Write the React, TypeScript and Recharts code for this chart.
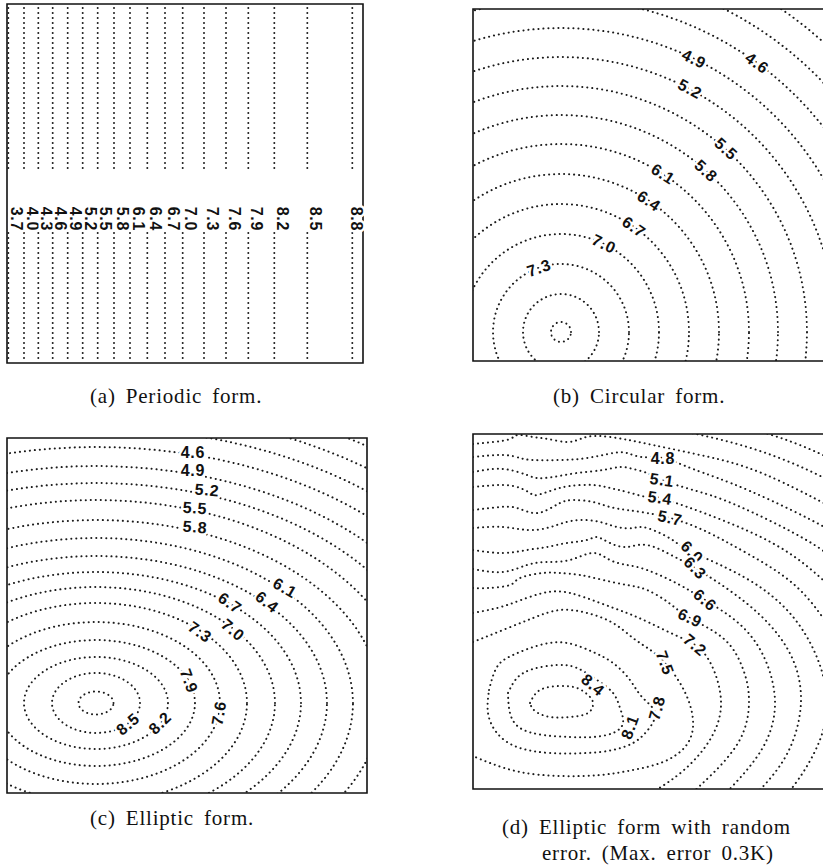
import { ComposedChart, Line, ReferenceDot, XAxis, YAxis, ReferenceArea } from "recharts";

// one plot unit = 10 px on screen, same in x and y
const PX = 10;

// (a) periodic form: straight contours, level and x position
const periodicLevels = [3.7, 4.0, 4.3, 4.6, 4.9, 5.2, 5.5, 5.8, 6.1, 6.4, 6.7, 7.0, 7.3, 7.6, 7.9, 8.2, 8.5, 8.8];
const periodicX = [0.13, 1.7, 3.13, 4.57, 6.07, 7.57, 9.07, 10.7, 12.3, 14.03, 15.8, 17.57, 19.7, 21.9, 24.13, 26.73, 30.03, 34.53];

// (b) circular form
const circularCenter = [8.8, 2.9];
const circularLevels = [7.9, 7.6, 7.3, 7.0, 6.7, 6.4, 6.1, 5.8, 5.5, 5.2, 4.9, 4.6, 4.3, 4.0];
const circularRadius = [1.0, 3.8, 6.8, 9.8, 12.8, 15.8, 18.8, 21.7, 24.6, 27.5, 30.4, 33.3, 36.2, 39.1];
const circularLabels = [
  { text: "7.3", x: 6.6, y: 9.3, angle: -19 },
  { text: "7.0", x: 13.1, y: 11.7, angle: 26 },
  { text: "6.7", x: 16.1, y: 13.4, angle: 35 },
  { text: "6.4", x: 17.6, y: 16.0, angle: 34 },
  { text: "6.1", x: 19.0, y: 18.7, angle: 33 },
  { text: "5.8", x: 23.3, y: 19.0, angle: 42 },
  { text: "5.5", x: 25.3, y: 21.2, angle: 42 },
  { text: "5.2", x: 21.7, y: 27.2, angle: 28 },
  { text: "4.9", x: 22.1, y: 30.2, angle: 26 },
  { text: "4.6", x: 28.4, y: 29.8, angle: 36 },
];

// (c) elliptic form
const ellipticCenter = [8.9, 9.0];
const ellipticLevels = [8.8, 8.5, 8.2, 7.9, 7.6, 7.3, 7.0, 6.7, 6.4, 6.1, 5.8, 5.5, 5.2, 4.9, 4.6, 4.3, 4.0, 3.7];
const ellipticSemiX = [1.75, 4.4, 7.2, 9.9, 12.4, 15.1, 17.9, 20.5, 23.1, 25.7, 28.5, 31.3, 34.1, 36.8, 39.7, 42.5, 45.3, 48.1];
const ellipticSemiY = [1.15, 3.0, 4.6, 6.3, 8.1, 10.0, 11.6, 13.1, 14.7, 16.5, 18.3, 20.3, 22.0, 23.7, 25.6, 27.5, 29.3, 31.1];
const ellipticLabels = [
  { text: "8.5", x: 12.1, y: 6.9, angle: -40 },
  { text: "8.2", x: 15.3, y: 7.0, angle: -45 },
  { text: "7.9", x: 18.2, y: 11.2, angle: 70 },
  { text: "7.6", x: 21.2, y: 8.0, angle: -80 },
  { text: "7.3", x: 19.3, y: 16.1, angle: 35 },
  { text: "7.0", x: 22.6, y: 16.3, angle: 40 },
  { text: "6.7", x: 22.3, y: 19.0, angle: 35 },
  { text: "6.4", x: 26.0, y: 19.1, angle: 38 },
  { text: "6.1", x: 27.8, y: 20.5, angle: 30 },
  { text: "5.8", x: 18.8, y: 26.6, angle: 5 },
  { text: "5.5", x: 18.8, y: 28.5, angle: 3 },
  { text: "5.2", x: 20.0, y: 30.3, angle: 5 },
  { text: "4.9", x: 18.6, y: 32.3, angle: 0 },
  { text: "4.6", x: 18.6, y: 34.1, angle: 0 },
];

// (d) elliptic form with random error: contours
const noisyLevels = [8.4, 8.1, 7.8, 7.5, 7.2, 6.9, 6.6, 6.3, 6.0, 5.7, 5.4, 5.1, 4.8, 4.5, 4.2, 3.9];
const noisyContours = [
  [[5.7, 8.6], [6.7, 9.9], [8.7, 10.3], [10.4, 10.1], [11.5, 9.4], [12.0, 8.6], [11.5, 7.6], [9.7, 7.2], [7.7, 7.2], [6.2, 7.8], [5.7, 8.6]],
  [[3.5, 9.6], [4.4, 11.1], [6.0, 12.0], [8.4, 12.4], [10.4, 12.1], [12.4, 10.9], [14.0, 9.6], [14.7, 8.1], [15.0, 6.6], [14.0, 5.6], [12.0, 5.2], [9.7, 5.2], [7.0, 5.4], [4.7, 6.1], [3.7, 7.6], [3.5, 9.6]],
  [[1.6, 9.9], [2.4, 12.2], [4.0, 13.4], [6.7, 14.4], [9.4, 14.6], [12.0, 13.7], [14.0, 12.6], [15.7, 10.9], [16.9, 9.2], [18.2, 7.6], [17.4, 5.8], [16.0, 4.6], [14.0, 3.9], [11.4, 3.6], [7.7, 3.6], [4.4, 4.2], [2.4, 5.6], [1.5, 7.6], [1.6, 9.9]],
  [[0, 14.7], [3.0, 15.9], [6.0, 17.1], [8.7, 17.9], [11.4, 17.6], [14.0, 16.6], [16.0, 15.1], [17.6, 14.0], [19.2, 12.6], [20.7, 10.6], [21.7, 8.4], [22.0, 6.2], [21.2, 4.2], [19.0, 2.7], [16.0, 1.9], [12.7, 1.4], [8.7, 1.3], [4.7, 1.7], [1.7, 2.6], [0, 3.3]],
  [[0, 17.6], [2.0, 18.0], [4.0, 18.6], [7.0, 19.6], [9.7, 19.6], [12.7, 18.6], [15.4, 17.6], [17.7, 16.6], [20.2, 15.4], [22.2, 14.4], [23.8, 12.5], [24.8, 8.8], [23.8, 5.1], [21.1, 1.9], [18.0, -0.3]],
  [[0, 20.1], [1.5, 20.1], [3.7, 20.4], [4.7, 21.1], [7.0, 21.6], [8.7, 21.6], [10.7, 21.4], [13.0, 20.9], [15.4, 20.4], [17.4, 19.9], [19.6, 18.6], [21.7, 17.1], [25.1, 15.0], [27.0, 12.0], [27.6, 8.8], [26.5, 4.6], [23.2, 0.8], [22.0, -0.3]],
  [[0, 22.0], [3.0, 21.7], [5.4, 22.4], [7.4, 22.7], [9.7, 22.9], [12.0, 23.6], [13.7, 22.9], [15.4, 22.4], [17.4, 21.9], [20.5, 20.5], [23.2, 18.9], [26.3, 16.8], [28.9, 13.6], [30.2, 8.8], [28.9, 4.0], [25.4, -0.3]],
  [[0, 23.9], [3.0, 23.6], [5.4, 23.9], [7.4, 24.2], [9.4, 24.6], [11.4, 24.9], [12.4, 25.2], [13.7, 24.6], [15.4, 24.2], [17.4, 24.4], [20.0, 23.3], [22.2, 22.1], [27.2, 18.7], [31.4, 14.1], [32.8, 8.8], [31.4, 3.5], [28.5, -0.3]],
  [[0, 26.1], [3.0, 26.2], [5.4, 25.9], [7.4, 26.1], [9.0, 26.6], [10.7, 26.9], [12.7, 26.7], [14.4, 26.2], [16.0, 26.1], [17.4, 26.1], [19.8, 25.0], [21.9, 23.7], [27.6, 20.9], [32.9, 16.0], [35.4, 8.8], [33.8, 3.0], [31.6, -0.3]],
  [[0, 27.9], [2.7, 28.2], [4.4, 28.1], [6.0, 27.6], [7.4, 27.9], [8.7, 28.6], [10.0, 28.9], [12.0, 28.7], [13.7, 28.2], [15.4, 27.9], [17.4, 27.6], [19.7, 27.1], [23.0, 25.9], [27.7, 23.4], [32.9, 19.7], [37.2, 13.7]],
  [[0, 30.2], [3.0, 30.4], [4.7, 30.1], [5.7, 29.6], [6.4, 29.4], [8.0, 29.9], [9.7, 30.3], [12.0, 30.4], [13.7, 30.1], [15.4, 29.7], [17.4, 29.2], [18.7, 29.1], [24.9, 26.9], [31.6, 23.6], [36.7, 19.3]],
  [[0, 31.7], [2.0, 32.0], [3.7, 31.9], [5.4, 31.4], [6.4, 31.1], [8.0, 31.2], [10.4, 31.6], [13.0, 31.9], [14.7, 32.2], [16.0, 32.0], [17.4, 31.6], [18.9, 30.9], [22.0, 29.9], [26.3, 28.4], [33.5, 24.8], [37.5, 21.8]],
  [[0, 33.2], [3.0, 33.4], [4.7, 33.1], [6.0, 32.9], [8.7, 32.9], [11.4, 33.1], [14.0, 33.6], [15.4, 33.6], [16.9, 33.2], [19.0, 33.1], [22.0, 32.0], [27.7, 29.8], [35.5, 26.0], [38.6, 23.8]],
  [[0, 34.5], [2.0, 34.7], [3.7, 35.0], [4.5, 35.4], [6.0, 35.2], [7.5, 35.0], [9.5, 34.7], [11.0, 35.1], [12.7, 35.3], [15.0, 35.0], [17.0, 34.6], [22.7, 33.4], [29.1, 31.5], [37.5, 27.3]],
  [[20.0, 36.0], [27.1, 34.3], [33.7, 31.8], [39.5, 28.7]],
  [[24.6, 36.9], [31.9, 34.7], [38.5, 31.7]],
];
const noisyLabels = [
  { text: "4.8", x: 19.0, y: 33.1, angle: 0 },
  { text: "5.1", x: 18.9, y: 30.9, angle: 8 },
  { text: "5.4", x: 18.7, y: 29.1, angle: 8 },
  { text: "5.7", x: 19.7, y: 27.1, angle: 12 },
  { text: "6.0", x: 21.9, y: 23.7, angle: 45 },
  { text: "6.3", x: 22.2, y: 22.1, angle: 45 },
  { text: "6.6", x: 23.2, y: 18.9, angle: 40 },
  { text: "6.9", x: 21.7, y: 17.1, angle: 25 },
  { text: "7.2", x: 22.2, y: 14.4, angle: 40 },
  { text: "7.5", x: 19.2, y: 12.6, angle: 70 },
  { text: "7.8", x: 18.4, y: 8.1, angle: -75 },
  { text: "8.1", x: 15.7, y: 6.2, angle: -70 },
  { text: "8.4", x: 12.0, y: 10.4, angle: 40 },
];

type Pt = { x: number; y: number };
type Label = { text: string; x: number; y: number; angle: number };

function ring(cx: number, cy: number, rx: number, ry: number): Pt[] {
  const pts: Pt[] = [];
  for (let d = 0; d <= 360; d += 3) {
    const t = (d * Math.PI) / 180;
    pts.push({ x: cx + rx * Math.cos(t), y: cy + ry * Math.sin(t) });
  }
  return pts;
}

const ContourLabel = (props: any) => {
  const { cx, cy, item } = props;
  if (cx == null || cy == null) return null;
  return (
    <text
      x={cx}
      y={cy}
      transform={`rotate(${item.angle} ${cx} ${cy})`}
      textAnchor="middle"
      dominantBaseline="central"
      fontFamily="'Liberation Sans', Arial, sans-serif"
      fontSize={16}
      fontWeight="bold"
      letterSpacing={0.8}
      fill="#111"
      stroke="#fff"
      strokeWidth={5}
      strokeLinejoin="round"
      paintOrder="stroke"
    >
      {item.text}
    </text>
  );
};

function Panel(props: {
  left: number;
  top: number;
  w: number;
  h: number;
  lines: Pt[][];
  curve: "linear" | "natural";
  labels: Label[];
}) {
  const { left, top, w, h, lines, curve, labels } = props;
  const m = 4;
  return (
    <div style={{ position: "absolute", left: left - m, top: top - m }}>
      <ComposedChart
        width={w * PX + 2 * m}
        height={h * PX + 2 * m}
        margin={{ top: m, right: m, bottom: m, left: m }}
        style={{ overflow: "visible" }}
      >
        <XAxis type="number" dataKey="x" domain={[0, w]} allowDataOverflow hide />
        <YAxis type="number" dataKey="y" domain={[0, h]} allowDataOverflow hide />
        {lines.map((pts, i) => (
          <Line
            key={i}
            data={pts}
            dataKey="y"
            type={curve}
            stroke="#1b1b1b"
            strokeWidth={2}
            strokeDasharray="0.1 4.9"
            strokeLinecap="round"
            dot={false}
            activeDot={false}
            isAnimationActive={false}
          />
        ))}
        <ReferenceArea x1={0} x2={w} y1={0} y2={h} fill="none" stroke="#111" strokeWidth={1.6} />
        {labels.map((l, i) => (
          <ReferenceDot
            key={`l${i}`}
            x={l.x}
            y={l.y}
            r={1}
            ifOverflow="visible"
            shape={(p: any) => <ContourLabel {...p} item={l} />}
          />
        ))}
      </ComposedChart>
    </div>
  );
}

const captionStyle: React.CSSProperties = {
  position: "absolute",
  fontFamily: "'Liberation Serif', 'Times New Roman', serif",
  fontSize: 21,
  letterSpacing: 0.8,
  wordSpacing: 4,
  lineHeight: "26px",
  whiteSpace: "nowrap",
  color: "#111",
};

export default function App() {
  const periodicLines: Pt[][] = [];
  periodicX.forEach((x) => {
    periodicLines.push([{ x, y: 35.5 }, { x, y: 19.0 }]);
    periodicLines.push([{ x, y: 13.0 }, { x, y: 0.3 }]);
  });
  const periodicLabels = periodicLevels.map((lv, i) => ({
    text: lv.toFixed(1),
    x: Math.min(periodicX[i] + 0.8, 34.9),
    y: 14.4,
    angle: 90,
  }));

  const circularLines = circularRadius.map((r) => ring(circularCenter[0], circularCenter[1], r, r));
  const ellipticLines = ellipticSemiX.map((a, i) =>
    ring(ellipticCenter[0], ellipticCenter[1], a, ellipticSemiY[i])
  );
  const noisyLines = noisyContours.map((c) => c.map(([x, y]) => ({ x, y })));

  return (
    <div
      style={{
        position: "absolute",
        left: 0,
        top: 0,
        width: 823,
        height: 868,
        overflow: "hidden",
        background: "#fff",
      }}
    >
      <Panel left={7} top={4} w={35.6} h={35.9} lines={periodicLines} curve="linear" labels={periodicLabels} />
      <Panel left={473} top={9} w={35.6} h={35.2} lines={circularLines} curve="linear" labels={circularLabels} />
      <Panel left={7} top={438} w={36.0} h={35.5} lines={ellipticLines} curve="linear" labels={ellipticLabels} />
      <Panel left={473} top={434} w={35.6} h={35.5} lines={noisyLines} curve="natural" labels={noisyLabels} />

      <div style={{ ...captionStyle, left: 90, top: 383 }}>(a) Periodic form.</div>
      <div style={{ ...captionStyle, left: 553, top: 383 }}>(b) Circular form.</div>
      <div style={{ ...captionStyle, left: 90, top: 805 }}>(c) Elliptic form.</div>
      <div style={{ ...captionStyle, left: 502, top: 814 }}>(d) Elliptic form with random</div>
      <div style={{ ...captionStyle, left: 542, top: 840 }}>error. (Max. error 0.3K)</div>
    </div>
  );
}
